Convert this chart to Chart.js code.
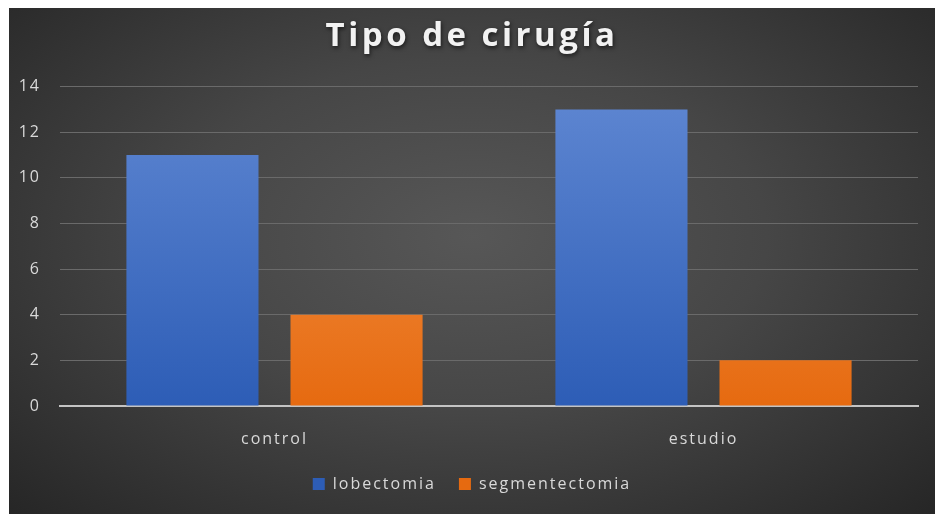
<!DOCTYPE html>
<html>
<head>
<meta charset="utf-8">
<script src="https://cdn.jsdelivr.net/npm/chart.js@4"></script>
<style>
  html, body { margin: 0; padding: 0; background: #ffffff; overflow: hidden; }
  #wrap {
    position: absolute; left: 9px; top: 8px; width: 926px; height: 506px;
    background: radial-gradient(ellipse at 50% 45%, #575757 0%, #464646 45%, #262626 100%);
  }
</style>
</head>
<body>
<div id="wrap"><canvas id="cirugia"></canvas></div>
<script>
// datos del grafico
var categorias = ['control', 'estudio'];
var lobectomia = [11, 13];
var segmentectomia = [4, 2];
var ticksY = [0, 2, 4, 6, 8, 10, 12, 14];

function degradado(ctx, arriba, abajo, plano) {
    const area = ctx.chart.chartArea;
    if (!area) return plano;
    const g = ctx.chart.ctx.createLinearGradient(0, area.top, 0, area.bottom);
    g.addColorStop(0, arriba);
    g.addColorStop(1, abajo);
    return g;
}

// envolver el dibujo de titulo y leyenda (espaciado, sombra, centrado)
function envolver(chart, caja, espacio, sombra) {
    if (!caja || caja._envuelto) return;
    const orig = caja.draw.bind(caja);
    caja.draw = function () {
        const c = chart.ctx;
        c.save();
        c.translate(8.5, 0);
        c.letterSpacing = espacio;
        if (sombra) {
            c.shadowColor = 'rgba(0,0,0,0.6)';
            c.shadowBlur = 4;
            c.shadowOffsetX = 1;
            c.shadowOffsetY = 2;
        }
        orig();
        c.restore();
    };
    caja._envuelto = true;
}

const espaciado = {
    id: 'espaciado',
    beforeLayout(chart) { chart.ctx.letterSpacing = '2px'; },
    beforeDraw(chart) {
        chart.ctx.letterSpacing = '2px';
        envolver(chart, chart.titleBlock, '3.5px', true);
        envolver(chart, chart.legend, '2px', false);
    }
};

const ctxC = document.getElementById('cirugia');
const grafico = new Chart(ctxC, {
    type: 'bar',
    data: {
        labels: categorias,
        datasets: [{
            label: 'lobectomia',
            data: lobectomia,
            backgroundColor: c => degradado(c, '#5f87d2', '#2d5db6', '#4a7bd6'),
            categoryPercentage: 0.765,
            barPercentage: 0.805
        }, {
            label: 'segmentectomia',
            data: segmentectomia,
            backgroundColor: c => degradado(c, '#f59a52', '#e66a10', '#f08533'),
            categoryPercentage: 0.765,
            barPercentage: 0.805
        }]
    },
    plugins: [espaciado],
    options: {
        responsive: true,
        maintainAspectRatio: false,
        animation: false,
        layout: { padding: { left: 0, right: 17, top: 0, bottom: 12 } },
        scales: {
            x: {
                grid: { display: false, drawTicks: false },
                border: { display: true, color: '#c4c4c4', width: 2 },
                ticks: { color: '#d9d9d9', padding: 24, font: { family: 'Open Sans', size: 16 } },
                afterFit: s => { s.height = 47; }
            },
            y: {
                min: 0,
                max: 14,
                afterBuildTicks: s => { s.ticks = ticksY.map(v => ({ value: v })); },
                grid: { color: '#6a6a6a', lineWidth: 1, drawTicks: false },
                border: { display: false },
                ticks: { color: '#d9d9d9', padding: 19, font: { family: 'Open Sans', size: 16 } },
                afterFit: s => { s.width = 51; }
            }
        },
        plugins: {
            title: {
                display: true,
                text: 'Tipo de cirugía',
                color: '#f2f2f2',
                font: { family: 'Open Sans', size: 33, weight: 'bold' },
                padding: { top: 9, bottom: 30 }
            },
            legend: {
                position: 'bottom',
                labels: {
                    color: '#d9d9d9',
                    boxWidth: 12,
                    boxHeight: 12,
                    padding: 23,
                    font: { family: 'Open Sans', size: 16 }
                }
            },
            tooltip: { enabled: false }
        }
    }
});
</script>
</body>
</html>
